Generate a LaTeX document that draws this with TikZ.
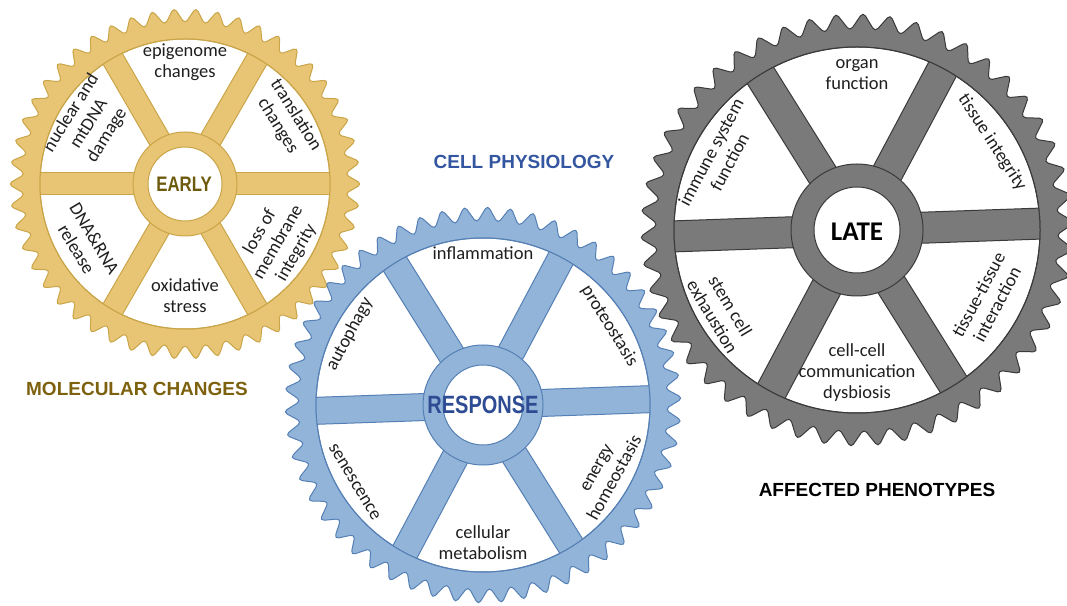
\documentclass[tikz,border=0pt]{standalone}
\usepackage{fontspec}
\setmainfont{Carlito}
\newfontfamily\headfont{Liberation Sans}
\newfontfamily\hubfont[FakeStretch=0.8]{Liberation Sans}
\usetikzlibrary{calc}

\definecolor{goldfill}{HTML}{E8C475}
\definecolor{golddraw}{HTML}{C9A548}
\definecolor{goldtext}{HTML}{6E5A0C}
\definecolor{goldtitle}{HTML}{7D610F}
\definecolor{bluefill}{HTML}{92B4D8}
\definecolor{bluedraw}{HTML}{5580B5}
\definecolor{bluetext}{HTML}{2E4C94}
\definecolor{bluetitle}{HTML}{3456A0}
\definecolor{grayfill}{HTML}{7A7A7A}
\definecolor{graydraw}{HTML}{3A3A3A}

\begin{document}
\begin{tikzpicture}[x=1pt,y=1pt]
        % Define styles
        \tikzstyle{sector} = [align=center, inner sep=0pt, text=black!88, font=\fontsize{18.5}{21}\selectfont]
        \tikzstyle{title} = [inner sep=0pt, font=\headfont\bfseries\fontsize{19}{22}\selectfont]
        \tikzstyle{hub} = [inner sep=0pt]

        \useasboundingbox (0,0) rectangle (1067,605);

        % Gear centres
        \coordinate (earlygear) at (185,421);
        \coordinate (responsegear) at (483,200);
        \coordinate (lategear) at (857,375);

        % Gears: centre/tip/root/rim/hub out/hub in/spoke/teeth/turn/fill/line
        \foreach \c/\rt/\rr/\ri/\ho/\hi/\sw/\n/\rot/\fc/\dc in {
                earlygear/177/160/145/52/37/22/50/0/goldfill/golddraw,
                responsegear/200/182/167/60/40/27/54/2/bluefill/bluedraw,
                lategear/218/199/183/66/43/31/50/2/grayfill/graydraw}
        {
            \begin{scope}[shift={(\c)}]
                \draw [fill=\fc, draw=\dc, line width=1pt, rounded corners=4.5pt]
                    ($({\rot-180/\n}:\rr)!0.5!(\rot:\rt)$) \foreach \k in {1,...,\n} {
                        -- ({\rot+(\k-1)*(360/\n)}:\rt) -- ({\rot+(\k-0.5)*(360/\n)}:\rr) } -- cycle;
                \draw [fill=white, draw=\dc, line width=1pt] (0,0) circle (\ri pt);
                \begin{scope}[rotate=\rot]
                    \clip (0,0) circle (\ri pt);
                    \foreach \a in {0,60,120}
                        \draw [fill=\fc, draw=\dc, line width=1pt, rotate=\a] (-\ri-5,-\sw/2) rectangle (\ri+5,\sw/2);
                \end{scope}
                \draw [draw=\dc, line width=1pt] (0,0) circle (\ri pt);
                \draw [fill=\fc, draw=\dc, line width=1pt] (0,0) circle (\ho pt);
                \draw [fill=white, draw=\dc, line width=1pt] (0,0) circle (\hi pt);
            \end{scope}
        }

        % Hub labels
        \node [hub, text=goldtext, font=\hubfont\bfseries\fontsize{21}{24}\selectfont] (early) at ($(earlygear)+(-1,0)$) {EARLY};
        \node [hub, text=bluetext, font=\hubfont\bfseries\fontsize{25}{28}\selectfont] (response) at (responsegear) {RESPONSE};
        \node [hub, font=\bfseries\fontsize{27}{30}\selectfont] (late) at ($(lategear)+(0,-2)$) {LATE};

        % Early gear
        \node [sector] (epigenome) at ($(earlygear)+(90:122)$) {epigenome\\changes};
        \node [sector, rotate=-58] (translation) at ($(earlygear)+(32:120)$) {translation\\changes};
        \node [sector, rotate=58] (nuclear) at ($(earlygear)+(148:113)$) {nuclear and\\mtDNA\\damage};
        \node [sector, rotate=-59] (release) at ($(earlygear)+(211:116)$) {DNA\&RNA\\release};
        \node [sector] (oxidative) at ($(earlygear)+(270:112)$) {oxidative\\stress};
        \node [sector, rotate=60] (membrane) at ($(earlygear)+(328:110)$) {loss of\\membrane\\integrity};

        % Response gear
        \node [sector] (inflammation) at ($(responsegear)+(90:152)$) {inflammation};
        \node [sector, rotate=-58] (proteostasis) at ($(responsegear)+(32:149)$) {proteostasis};
        \node [sector, rotate=62] (autophagy) at ($(responsegear)+(152:151)$) {autophagy};
        \node [sector, rotate=-59] (senescence) at ($(responsegear)+(211:150)$) {senescence};
        \node [sector] (metabolism) at ($(responsegear)+(270:138)$) {cellular\\metabolism};
        \node [sector, rotate=61] (energy) at ($(responsegear)+(331:141)$) {energy\\homeostasis};

        % Late gear
        \node [sector] (organ) at ($(lategear)+(90:155)$) {organ\\function};
        \node [sector, rotate=-57] (integrity) at ($(lategear)+(33:161)$) {tissue integrity};
        \node [sector, rotate=62] (immune) at ($(lategear)+(152:155)$) {immune system\\function};
        \node [sector, rotate=-59] (stemcell) at ($(lategear)+(211:158)$) {stem cell\\exhaustion};
        \node [sector] (communication) at ($(lategear)+(270:143)$) {cell-cell\\communication\\dysbiosis};
        \node [sector, rotate=62] (interaction) at ($(lategear)+(332:148)$) {tissue-tissue\\interaction};

        % Titles
        \node [title, text=goldtitle] (molecular) at (137,216) {MOLECULAR CHANGES};
        \node [title, text=bluetitle] (physiology) at (524,443) {CELL PHYSIOLOGY};
        \node [title] (phenotypes) at (877,115) {AFFECTED PHENOTYPES};

\end{tikzpicture}
\end{document}
